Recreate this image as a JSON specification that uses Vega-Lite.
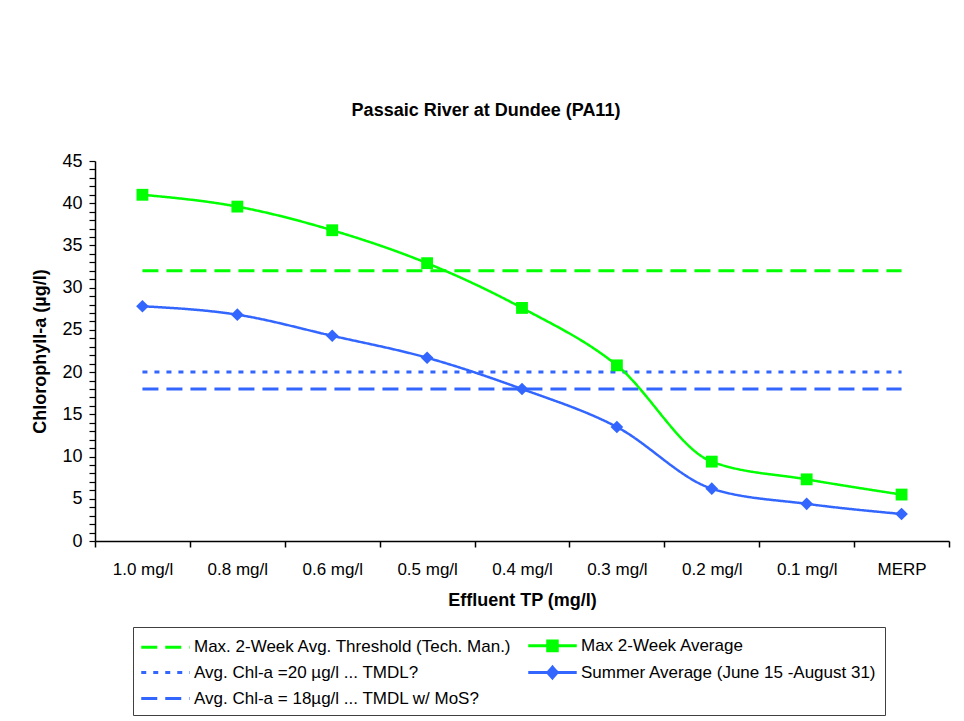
{
  "$schema": "https://vega.github.io/schema/vega-lite/v6.json",
  "width": 854,
  "height": 380,
  "padding": {"left": 31, "top": 102, "right": 12, "bottom": 4},
  "background": "white",
  "config": {"view": {"stroke": null}, "font": "Liberation Sans"},
  "title": {
    "text": "Passaic River at Dundee (PA11)",
    "font": "Liberation Sans",
    "fontSize": 18,
    "fontWeight": "bold",
    "color": "black",
    "anchor": "middle",
    "dx": -36,
    "offset": 32
  },
  "data": {
    "values": [
      {"tp": "1.0 mg/l", "series": "Max 2-Week Average", "chla": 41.0},
      {"tp": "0.8 mg/l", "series": "Max 2-Week Average", "chla": 39.6},
      {"tp": "0.6 mg/l", "series": "Max 2-Week Average", "chla": 36.8},
      {"tp": "0.5 mg/l", "series": "Max 2-Week Average", "chla": 32.9},
      {"tp": "0.4 mg/l", "series": "Max 2-Week Average", "chla": 27.6},
      {"tp": "0.3 mg/l", "series": "Max 2-Week Average", "chla": 20.8},
      {"tp": "0.2 mg/l", "series": "Max 2-Week Average", "chla": 9.4},
      {"tp": "0.1 mg/l", "series": "Max 2-Week Average", "chla": 7.3},
      {"tp": "MERP", "series": "Max 2-Week Average", "chla": 5.5},
      {"tp": "1.0 mg/l", "series": "Summer Average (June 15 -August 31)", "chla": 27.8},
      {"tp": "0.8 mg/l", "series": "Summer Average (June 15 -August 31)", "chla": 26.8},
      {"tp": "0.6 mg/l", "series": "Summer Average (June 15 -August 31)", "chla": 24.3},
      {"tp": "0.5 mg/l", "series": "Summer Average (June 15 -August 31)", "chla": 21.7},
      {"tp": "0.4 mg/l", "series": "Summer Average (June 15 -August 31)", "chla": 18.0},
      {"tp": "0.3 mg/l", "series": "Summer Average (June 15 -August 31)", "chla": 13.5},
      {"tp": "0.2 mg/l", "series": "Summer Average (June 15 -August 31)", "chla": 6.2},
      {"tp": "0.1 mg/l", "series": "Summer Average (June 15 -August 31)", "chla": 4.4},
      {"tp": "MERP", "series": "Summer Average (June 15 -August 31)", "chla": 3.2},
      {"tp": "1.0 mg/l", "series": "Max. 2-Week Avg. Threshold (Tech. Man.)", "chla": 32},
      {"tp": "0.8 mg/l", "series": "Max. 2-Week Avg. Threshold (Tech. Man.)", "chla": 32},
      {"tp": "0.6 mg/l", "series": "Max. 2-Week Avg. Threshold (Tech. Man.)", "chla": 32},
      {"tp": "0.5 mg/l", "series": "Max. 2-Week Avg. Threshold (Tech. Man.)", "chla": 32},
      {"tp": "0.4 mg/l", "series": "Max. 2-Week Avg. Threshold (Tech. Man.)", "chla": 32},
      {"tp": "0.3 mg/l", "series": "Max. 2-Week Avg. Threshold (Tech. Man.)", "chla": 32},
      {"tp": "0.2 mg/l", "series": "Max. 2-Week Avg. Threshold (Tech. Man.)", "chla": 32},
      {"tp": "0.1 mg/l", "series": "Max. 2-Week Avg. Threshold (Tech. Man.)", "chla": 32},
      {"tp": "MERP", "series": "Max. 2-Week Avg. Threshold (Tech. Man.)", "chla": 32},
      {"tp": "1.0 mg/l", "series": "Avg. Chl-a =20 µg/l ... TMDL?", "chla": 20},
      {"tp": "0.8 mg/l", "series": "Avg. Chl-a =20 µg/l ... TMDL?", "chla": 20},
      {"tp": "0.6 mg/l", "series": "Avg. Chl-a =20 µg/l ... TMDL?", "chla": 20},
      {"tp": "0.5 mg/l", "series": "Avg. Chl-a =20 µg/l ... TMDL?", "chla": 20},
      {"tp": "0.4 mg/l", "series": "Avg. Chl-a =20 µg/l ... TMDL?", "chla": 20},
      {"tp": "0.3 mg/l", "series": "Avg. Chl-a =20 µg/l ... TMDL?", "chla": 20},
      {"tp": "0.2 mg/l", "series": "Avg. Chl-a =20 µg/l ... TMDL?", "chla": 20},
      {"tp": "0.1 mg/l", "series": "Avg. Chl-a =20 µg/l ... TMDL?", "chla": 20},
      {"tp": "MERP", "series": "Avg. Chl-a =20 µg/l ... TMDL?", "chla": 20},
      {"tp": "1.0 mg/l", "series": "Avg. Chl-a = 18µg/l ... TMDL w/ MoS?", "chla": 18},
      {"tp": "0.8 mg/l", "series": "Avg. Chl-a = 18µg/l ... TMDL w/ MoS?", "chla": 18},
      {"tp": "0.6 mg/l", "series": "Avg. Chl-a = 18µg/l ... TMDL w/ MoS?", "chla": 18},
      {"tp": "0.5 mg/l", "series": "Avg. Chl-a = 18µg/l ... TMDL w/ MoS?", "chla": 18},
      {"tp": "0.4 mg/l", "series": "Avg. Chl-a = 18µg/l ... TMDL w/ MoS?", "chla": 18},
      {"tp": "0.3 mg/l", "series": "Avg. Chl-a = 18µg/l ... TMDL w/ MoS?", "chla": 18},
      {"tp": "0.2 mg/l", "series": "Avg. Chl-a = 18µg/l ... TMDL w/ MoS?", "chla": 18},
      {"tp": "0.1 mg/l", "series": "Avg. Chl-a = 18µg/l ... TMDL w/ MoS?", "chla": 18},
      {"tp": "MERP", "series": "Avg. Chl-a = 18µg/l ... TMDL w/ MoS?", "chla": 18}
    ]
  },
  "encoding": {
    "x": {
      "field": "tp",
      "type": "nominal",
      "sort": ["1.0 mg/l", "0.8 mg/l", "0.6 mg/l", "0.5 mg/l", "0.4 mg/l", "0.3 mg/l", "0.2 mg/l", "0.1 mg/l", "MERP"],
      "scale": {"type": "band", "paddingInner": 0, "paddingOuter": 0},
      "axis": {
        "title": "Effluent TP (mg/l)",
        "labelAngle": 0,
        "tickBand": "extent",
        "tickSize": 6,
        "tickWidth": 1.5,
        "tickColor": "black",
        "domainColor": "black",
        "domainWidth": 1.5,
        "grid": false,
        "labelPadding": 14,
        "labelFont": "Liberation Sans",
        "labelFontSize": 17,
        "labelColor": "black",
        "titleFont": "Liberation Sans",
        "titleFontSize": 18,
        "titleFontWeight": "bold",
        "titleColor": "black",
        "titlePadding": 14
      }
    },
    "y": {
      "field": "chla",
      "type": "quantitative",
      "scale": {"domain": [0, 45], "nice": false},
      "axis": {
        "title": "Chlorophyll-a (µg/l)",
        "values": [0,1,2,3,4,5,6,7,8,9,10,11,12,13,14,15,16,17,18,19,20,21,22,23,24,25,26,27,28,29,30,31,32,33,34,35,36,37,38,39,40,41,42,43,44,45],
        "labelExpr": "datum.value % 5 === 0 ? datum.label : ''",
        "labelOverlap": false,
        "tickSize": 6,
        "tickWidth": 1.2,
        "tickColor": "black",
        "domainColor": "black",
        "domainWidth": 1.5,
        "grid": false,
        "labelPadding": 7,
        "labelFont": "Liberation Sans",
        "labelFontSize": 18,
        "labelColor": "black",
        "titleFont": "Liberation Sans",
        "titleFontSize": 18,
        "titleFontWeight": "bold",
        "titleColor": "black",
        "titlePadding": 12
      }
    },
    "color": {
      "field": "series",
      "type": "nominal",
      "scale": {
        "domain": ["Max. 2-Week Avg. Threshold (Tech. Man.)", "Avg. Chl-a =20 µg/l ... TMDL?", "Avg. Chl-a = 18µg/l ... TMDL w/ MoS?", "Max 2-Week Average", "Summer Average (June 15 -August 31)"],
        "range": ["#00FF00", "#3366FF", "#3366FF", "#00FF00", "#3366FF"]
      },
      "legend": {
        "title": null,
        "orient": "none",
        "legendX": 38,
        "legendY": 466,
        "columns": 2,
        "padding": 8,
        "rowPadding": 4,
        "columnPadding": 10,
        "strokeColor": "#404040",
        "fillColor": "white",
        "symbolSize": 300,
        "symbolStrokeWidth": 3,
        "symbolOffset": 14,
        "labelOffset": 18,
        "labelFont": "Liberation Sans",
        "labelFontSize": 17,
        "labelColor": "black",
        "labelLimit": 500
      }
    }
  },
  "layer": [
    {
      "transform": [{"filter": {"field": "series", "oneOf": ["Max. 2-Week Avg. Threshold (Tech. Man.)", "Avg. Chl-a =20 µg/l ... TMDL?", "Avg. Chl-a = 18µg/l ... TMDL w/ MoS?"]}}],
      "mark": {"type": "line", "strokeWidth": 3, "strokeCap": "butt"},
      "encoding": {
        "strokeDash": {
          "field": "series",
          "type": "nominal",
          "scale": {
            "domain": ["Max. 2-Week Avg. Threshold (Tech. Man.)", "Avg. Chl-a =20 µg/l ... TMDL?", "Avg. Chl-a = 18µg/l ... TMDL w/ MoS?", "Max 2-Week Average", "Summer Average (June 15 -August 31)"],
            "range": [[16, 8], [5, 7], [16, 8], [1, 0], [1, 0]]
          }
        }
      }
    },
    {
      "transform": [{"filter": {"field": "series", "oneOf": ["Max 2-Week Average", "Summer Average (June 15 -August 31)"]}}],
      "mark": {"type": "line", "strokeWidth": 2.5, "interpolate": "monotone"},
      "encoding": {
        "strokeDash": {"field": "series", "type": "nominal"}
      }
    },
    {
      "transform": [{"filter": {"field": "series", "equal": "Max 2-Week Average"}}],
      "mark": {"type": "square", "filled": true, "opacity": 1, "size": 140}
    },
    {
      "transform": [{"filter": {"field": "series", "equal": "Summer Average (June 15 -August 31)"}}],
      "mark": {"type": "point", "shape": "diamond", "filled": true, "opacity": 1, "size": 160}
    },
    {
      "transform": [{"filter": "false"}],
      "mark": {"type": "point", "filled": true},
      "encoding": {
        "shape": {
          "field": "series",
          "type": "nominal",
          "scale": {
            "domain": ["Max. 2-Week Avg. Threshold (Tech. Man.)", "Avg. Chl-a =20 µg/l ... TMDL?", "Avg. Chl-a = 18µg/l ... TMDL w/ MoS?", "Max 2-Week Average", "Summer Average (June 15 -August 31)"],
            "range": ["M-2.8,0H2.8", "M-2.8,0H2.8", "M-2.8,0H2.8", "M-2.8,0H2.8M-0.55,-0.55H0.55V0.55H-0.55Z", "M-2.8,0H2.8M0,-0.62L0.55,0L0,0.62L-0.55,0Z"]
          }
        }
      }
    }
  ]
}
